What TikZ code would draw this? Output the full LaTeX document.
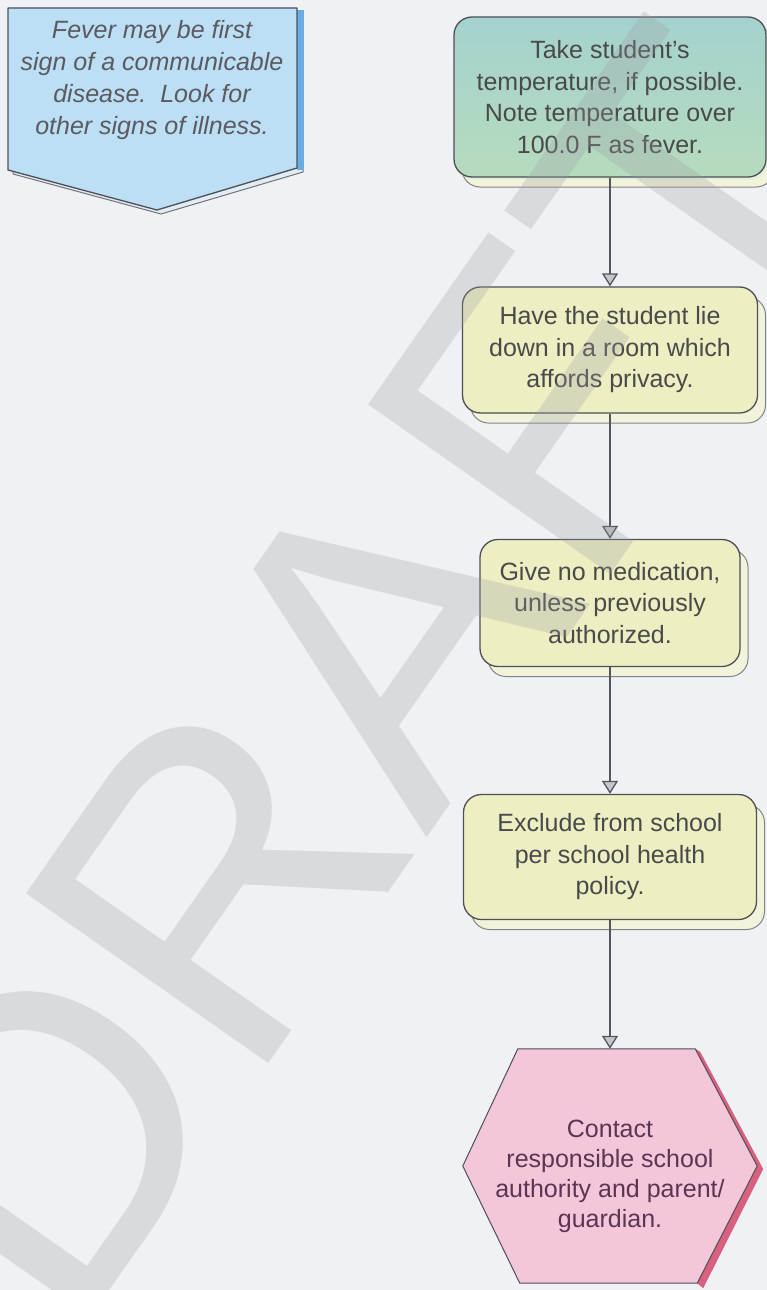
\documentclass[tikz,border=0pt]{standalone}
\usepackage{fontspec}
\setmainfont{Liberation Sans}
\usetikzlibrary{arrows.meta,shadows}

\definecolor{pagebg}{HTML}{EFF1F4}
\definecolor{bordergray}{HTML}{4F4F55}
\definecolor{linegray}{HTML}{55555B}
\definecolor{tipgray}{HTML}{C4C6CC}
\definecolor{textgray}{HTML}{4A4A4A}
\definecolor{notetext}{HTML}{5A5A60}
\definecolor{notefill}{HTML}{BCDFF5}
\definecolor{noteback}{HTML}{E2ECF4}
\definecolor{noteedge}{HTML}{6AACE4}
\definecolor{tealtop}{HTML}{A4D2CE}
\definecolor{tealbot}{HTML}{B6DBBE}
\definecolor{tealshadow}{HTML}{D6ECE4}
\definecolor{paleyellow}{HTML}{EDEEC2}
\definecolor{yellowshadow}{HTML}{F1F3DA}
\definecolor{hexfill}{HTML}{F4C6DA}
\definecolor{hexshadow}{HTML}{D9607F}
\definecolor{hextext}{HTML}{5B3552}
\definecolor{wmgray}{HTML}{9C9DA3}

\tikzset{
  bodyfont/.style={font=\fontsize{25}{31.5}\selectfont},
  stepbox/.style={draw=bordergray, line width=1.3pt, rounded corners=18pt,
    inner sep=0pt, align=center, text=textgray, bodyfont,
    drop shadow={shadow xshift=8pt, shadow yshift=-10pt, opacity=1,
      fill=yellowshadow, draw=bordergray!70, line width=1pt}},
  yellowstep/.style={stepbox, fill=paleyellow},
  flowarrow/.style={draw=linegray, line width=1.3pt,
    -{Triangle[width=16pt,length=13pt,fill=tipgray]}},
  notebody/.style={fill=notefill, draw=bordergray, line width=1.3pt, line join=round},
  notebacking/.style={fill=noteback, draw=bordergray!80, line width=1pt, line join=round},
  notelabel/.style={align=center, text=notetext, inner sep=0pt,
    font=\fontsize{25}{32}\selectfont\itshape},
  hexframe/.style={inner sep=0pt, minimum width=294pt, minimum height=234pt},
  hexlabel/.style={align=center, text=hextext, inner sep=0pt,
    font=\fontsize{25}{30}\selectfont},
  watermark/.style={text=wmgray, opacity=0.27, inner sep=0pt,
    font=\fontsize{430}{430}\selectfont}
}

\begin{document}
\begin{tikzpicture}[x=1pt,y=-1pt]
\useasboundingbox (0,0) rectangle (767,1290);
\fill[pagebg] (0,0) rectangle (767,1290);

% pentagon note at the top left, with its backing and blue right edge
\filldraw[notebacking] (13,12) -- (303,12) -- (303,172) -- (161,214) -- (13,174) -- cycle;
\fill[noteedge] (297,10) rectangle (304,170);
\filldraw[notebody] (8,8) -- (297,8) -- (297,168) -- (157,210) -- (8,170) -- cycle;
\node[notelabel] (note) at (152,80)
  {Fever may be first\\ sign of a communicable\\ disease.\ \ Look for\\ other signs of illness.};

% process steps
\node[stepbox, top color=tealtop, bottom color=tealbot,
      drop shadow={fill=tealshadow},
      minimum width=312pt, minimum height=160pt] (b1) at (610,97)
  {Take student's\\ temperature, if possible.\\ Note temperature over\\ 100.0 F as fever.};
\node[yellowstep, minimum width=295pt, minimum height=126pt] (b2) at (610,350)
  {Have the student lie\\ down in a room which\\ affords privacy.};
\node[yellowstep, minimum width=260pt, minimum height=127pt] (b3) at (610,603)
  {Give no medication,\\ unless previously\\ authorized.};
\node[yellowstep, minimum width=293pt, minimum height=125pt] (b4) at (610,857)
  {Exclude from school\\ per school health\\ policy.};

% final hexagon
\node[hexframe] (hex) at (610,1166) {};
\fill[hexshadow]
  ([xshift=-57pt,yshift=-3pt]hex.north east) -- ([xshift=6pt,yshift=-3pt]hex.east)
  -- ([xshift=-54pt,yshift=-5pt]hex.south east) -- ([xshift=-60pt]hex.south east)
  -- (hex.east) -- ([xshift=-62pt]hex.north east) -- cycle;
\filldraw[fill=hexfill, draw=bordergray, line width=1pt, line join=round]
  ([xshift=55pt]hex.north west) -- ([xshift=-62pt]hex.north east) -- (hex.east)
  -- ([xshift=-60pt]hex.south east) -- ([xshift=57pt]hex.south west)
  -- (hex.west) -- cycle;
\node[hexlabel] (hexlabel) at ([yshift=-10pt]hex.center)
  {Contact\\ responsible school\\ authority and parent/\\ guardian.};

% connectors
\draw[flowarrow] (b1.south) -- (b2.north);
\draw[flowarrow] (b2.south) -- (b3.north);
\draw[flowarrow] (b3.south) -- (b4.north);
\draw[flowarrow] (b4.south) -- (hex.north);

% watermark laid over everything
\node[watermark, rotate=55] (wm) at (360,675) {DRAFT};
\end{tikzpicture}
\end{document}
